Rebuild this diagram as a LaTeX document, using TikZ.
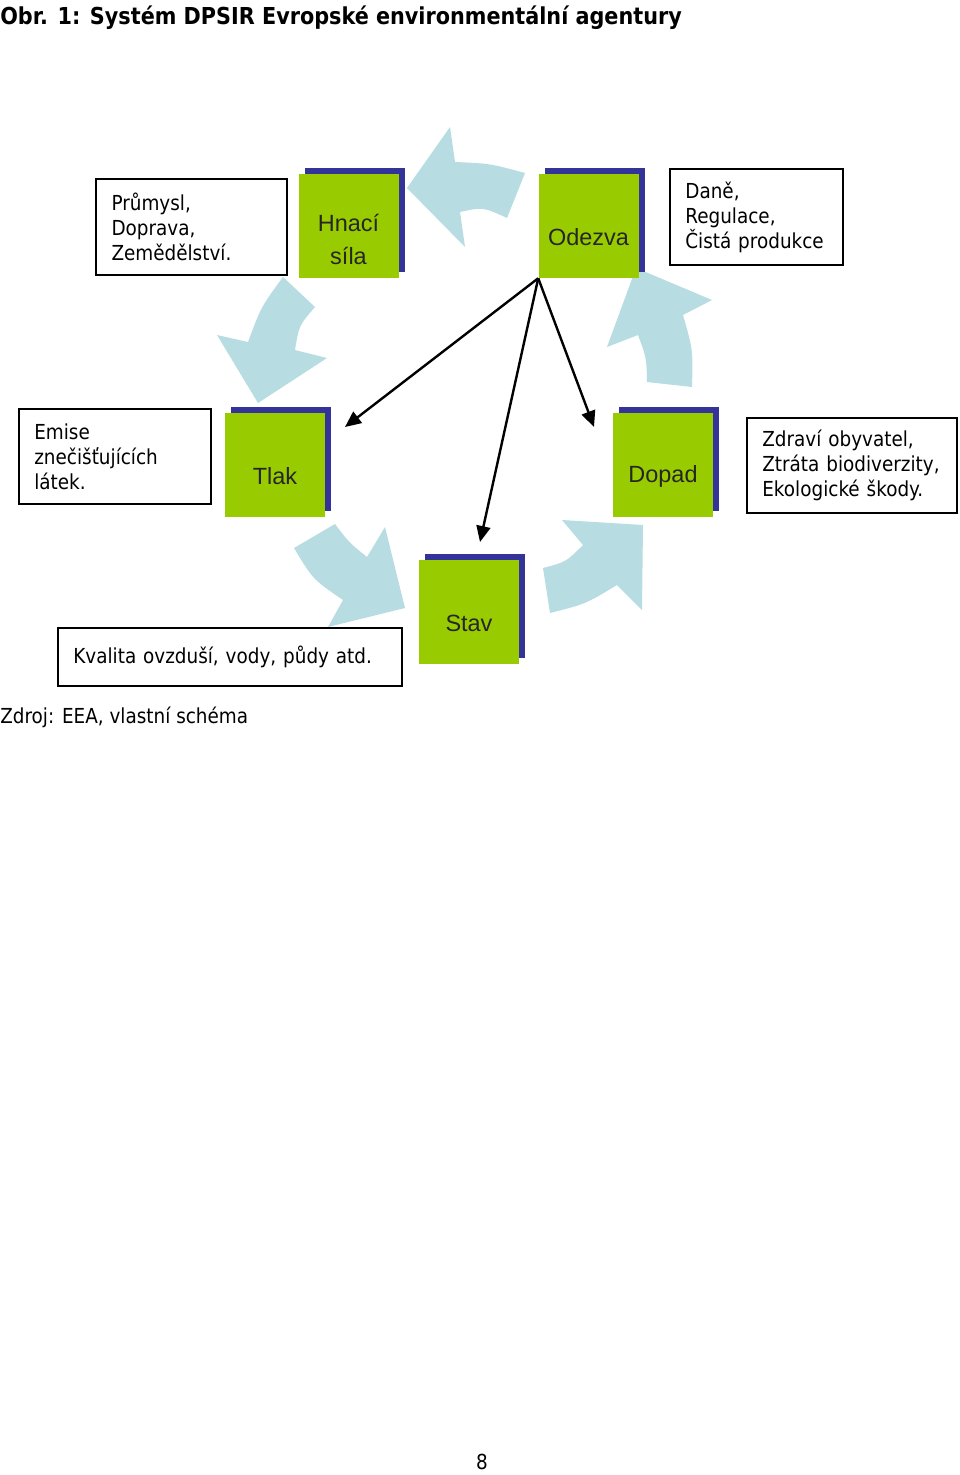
\documentclass[tikz,border=0pt]{standalone}
\usepackage{fontspec}
\setmainfont{DejaVu Sans}[FakeStretch=0.89]
\newfontfamily\labelfont{Liberation Sans}
\usepackage{tikz}
\usetikzlibrary{arrows.meta,positioning,shadows}
\definecolor{dpsirgreen}{RGB}{153,204,0}
\definecolor{dpsirblue}{RGB}{51,51,153}
\definecolor{cyclefill}{RGB}{183,221,227}

\begin{document}
\begin{tikzpicture}[
  x=0.75pt, y=-0.75pt,
  txtbox/.style={draw, line width=1.1pt, fill=white, align=left, inner xsep=11.5pt, inner ysep=0pt, font=\fontsize{15.5}{18.75}\selectfont},
  stage/.style={fill=dpsirgreen, minimum width=75pt, minimum height=78pt, inner sep=0pt,
    general shadow={fill=dpsirblue, shadow xshift=4.5pt, shadow yshift=4.5pt}},
  stagetext/.style={font=\labelfont\fontsize{17.6}{24.75}\selectfont, align=center, text=black!85, yshift=-8.25pt},
  cyclearr/.style={fill=cyclefill},
  arr/.style={-{Triangle[length=12pt, width=10.5pt]}, line width=1.8pt},
  plain/.style={inner sep=0pt, font=\fontsize{15.5}{18.75}\selectfont},
]
\useasboundingbox[fill=white] (0,0) rectangle (960,1475);

\node[plain, anchor=base west, font=\bfseries\fontsize{17.5}{20}\selectfont] (title) at (0,24) {Obr. 1: Systém DPSIR Evropské environmentální agentury};

% cycle of block arrows
\fill[cyclearr] (407,188) -- (450,127) -- (455,162) .. controls (490,163.5) .. (525,173) -- (507,218) .. controls (483,207) .. (460,212) -- (465,247) -- cycle;
\fill[cyclearr] (283,277) .. controls (261,307) .. (248,342) -- (217,335) -- (258,403) -- (327,358) -- (295,350) .. controls (299,325.5) .. (315,307) -- cycle;
\fill[cyclearr] (647,382) -- (692,387) .. controls (693,350) .. (683,315) -- (712,300) -- (636,268) -- (607,347) -- (638,335) .. controls (646.5,358) .. (647,382) -- cycle;
\fill[cyclearr] (294,548) -- (335,524) .. controls (349,542.5) .. (367,557) -- (385,527) -- (405,608) -- (328,627) -- (343,600) .. controls (313,579.5) .. (294,548) -- cycle;
\fill[cyclearr] (543,568) .. controls (566,562) .. (583,545) -- (562,520) -- (643,525) -- (642,610) -- (617,585) .. controls (585.5,604) .. (550,613) -- cycle;

% stages
\node[stage, label={[stagetext, yshift=-1.8pt]center:Hnací\\síla}] (driver) at (348.5,226) {};
\node[stage, label={[stagetext]center:Odezva}] (response) at (588.5,226) {};
\node[stage, label={[stagetext]center:Tlak}] (pressure) at (275,465) {};
\node[stage, label={[stagetext]center:Dopad}] (impact) at (663,465) {};
\node[stage, label={[stagetext]center:Stav}] (state) at (469,612) {};

% examples
\node[txtbox, text width=120pt, minimum height=72pt] (industry) at (191.5,227) {Průmysl,\\Doprava,\\Zemědělství.};
\node[txtbox, text width=106.75pt, minimum height=72pt] (policy) at (756.5,217) {Daně,\\Regulace,\\Čistá~produkce};
\node[txtbox, text width=121pt, minimum height=71.25pt] (emission) at (115,456.5) {Emise\\znečišťujících\\látek.};
\node[txtbox, text width=134.5pt, minimum height=71.25pt] (health) at (852,465.5) {Zdraví~obyvatel,\\Ztráta~biodiverzity,\\Ekologické~škody.};
\node[txtbox, text width=235pt, minimum height=43.5pt] (quality) at (230,657) {Kvalita~ovzduší,~vody,~půdy~atd.};

\coordinate (pressure-in) at (345,427);
\coordinate (state-in) at (480,542);
\coordinate (impact-in) at (594,427);
\draw[arr] (response.south west) -- (pressure-in);
\draw[arr] (response.south west) -- (state-in);
\draw[arr] (response.south west) -- (impact-in);

\node[plain, anchor=base west] (source) at (0,723) {Zdroj: EEA, vlastní schéma};
\node[plain, anchor=base] (pagenum) at (482,1469) {8};
\end{tikzpicture}
\end{document}
